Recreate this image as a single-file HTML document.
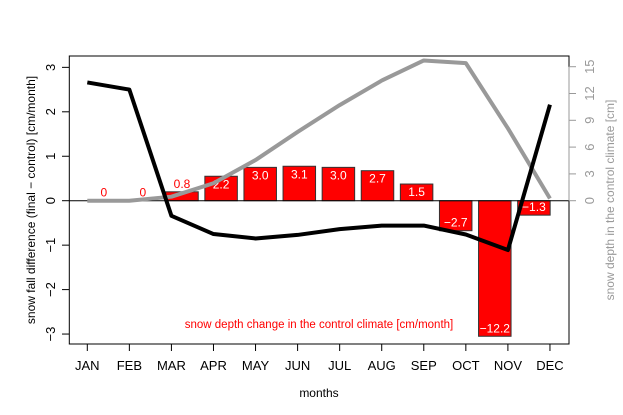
<!DOCTYPE html>
<html><head><meta charset="utf-8"><style>
html,body{margin:0;padding:0;background:#fff;}
svg{display:block;font-family:"Liberation Sans",sans-serif;}
</style></head><body>
<svg id="chart" width="623" height="415" viewBox="0 0 623 415" xmlns="http://www.w3.org/2000/svg">
<g id="bars"></g>
<g id="lines"></g>
<g id="axes"></g>
<text x="319" y="397" text-anchor="middle" font-size="12">months</text>
<text transform="translate(35,200) rotate(-90)" text-anchor="middle" font-size="12">snow fall difference (final − control) [cm/month]</text>
<text transform="translate(614,200) rotate(-90)" text-anchor="middle" font-size="12" fill="#999">snow depth in the control climate [cm]</text>
<text x="319" y="328" text-anchor="middle" font-size="11.5" fill="#ff0000">snow depth change in the control climate [cm/month]</text>
</svg>
<script>
const months = ["JAN","FEB","MAR","APR","MAY","JUN","JUL","AUG","SEP","OCT","NOV","DEC"];
const snowfallDiff = [2.66,2.5,-0.34,-0.75,-0.85,-0.77,-0.64,-0.56,-0.56,-0.76,-1.11,2.16];
const snowDepth = [0,0,0.45,1.95,4.55,7.7,10.7,13.45,15.7,15.4,8.1,0.25];
const depthChange = [0,0,0.8,2.2,3.0,3.1,3.0,2.7,1.5,-2.7,-12.2,-1.3];
const depthChangeLabels = ["0","0","0.8","2.2","3.0","3.1","3.0","2.7","1.5","\u22122.7","\u221212.2","\u22121.3"];
const leftTicks = [-3,-2,-1,0,1,2,3];
const leftTickLabels = ["\u22123","\u22122","\u22121","0","1","2","3"];
const rightTicks = [0,3,6,9,12,15];

const NS="http://www.w3.org/2000/svg";
function mk(tag,attrs,parent,text){const e=document.createElementNS(NS,tag);for(const k in attrs)e.setAttribute(k,attrs[k]);if(text!==undefined)e.textContent=text;parent.appendChild(e);return e;}
const X0=87.3, DX=42.06;
const xm=i=>X0+i*DX;
const yL=v=>200.7-v*44.45;
const yR=v=>200.7-v*(134/15);
const BX0=103.8, BDX=39.1, BW=32.5;
const xb=i=>BX0+i*BDX;
const yBar=v=>yL(v/4);

const gb=document.getElementById('bars'), gl=document.getElementById('lines'), ga=document.getElementById('axes');

depthChange.forEach((v,i)=>{
  const y0=yL(0), y1=yBar(v);
  if(v!==0){
    const r=mk('rect',{x:xb(i)-BW/2,y:Math.min(y0,y1),width:BW,height:Math.abs(y1-y0),fill:'#ff0000',stroke:'#333','stroke-width':1},gb);
    
    
  }
  let ty, col='#fff';
  if(v>=0){ if(Math.abs(y1-y0)<14){ty=y1-4;col='#ff0000';} else ty=y1+12; }
  else ty=y1-4;
  const t=mk('text',{x:xb(i),y:ty,'text-anchor':'middle','font-size':12,fill:col},gb,depthChangeLabels[i]);
  
  
});

const zl=mk('line',{x1:69.3,x2:569,y1:yL(0),y2:yL(0),stroke:'#000','stroke-width':1},gl);



const gp=mk('polyline',{points:snowDepth.map((v,i)=>xm(i)+','+yR(v)).join(' '),fill:'none',stroke:'#999','stroke-width':4,'stroke-linejoin':'round'},gl);


const bp=mk('polyline',{points:snowfallDiff.map((v,i)=>xm(i)+','+yL(v)).join(' '),fill:'none',stroke:'#000','stroke-width':4,'stroke-linejoin':'round'},gl);



const box=mk('rect',{x:69.3,y:56,width:499.7,height:288,fill:'none',stroke:'#000','stroke-width':1},ga);



months.forEach((m,i)=>{
  mk('line',{x1:xm(i),x2:xm(i),y1:344,y2:351,stroke:'#000'},ga);
  const t=mk('text',{x:xm(i),y:370,'text-anchor':'middle','font-size':13},ga,m);
  
  
});
leftTicks.forEach((v,i)=>{
  mk('line',{x1:62,x2:69.3,y1:yL(v),y2:yL(v),stroke:'#000'},ga);
  const t=mk('text',{x:0,y:0,'text-anchor':'middle','font-size':13,transform:`translate(55,${yL(v)}) rotate(-90)`},ga,leftTickLabels[i]);
  
  
});
mk('line',{x1:569,x2:569,y1:yR(0),y2:yR(15),stroke:'#999'},ga);
rightTicks.forEach(v=>{
  mk('line',{x1:569,x2:576,y1:yR(v),y2:yR(v),stroke:'#999'},ga);
  const t=mk('text',{x:0,y:0,'text-anchor':'middle','font-size':13,fill:'#999',transform:`translate(594,${yR(v)}) rotate(-90)`},ga,String(v));
  
  
});
</script>
</body></html>
